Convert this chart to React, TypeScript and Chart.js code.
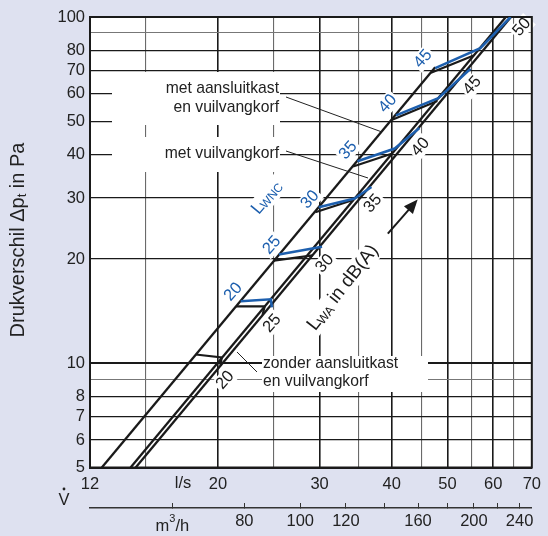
import React, { useEffect, useRef } from 'react';
import { Chart, registerables } from 'chart.js';
Chart.register(...registerables);

const FONT = '"Liberation Sans", Arial, Helvetica, sans-serif';
const BG = '#dee1f0';
const INK = '#1a1a1a';
const BLUE = '#1d5fae';

// axis ticks
const xTicks = [12, 15, 20, 25, 30, 35, 40, 45, 50, 55, 60, 65, 70];
const xLabeled = [12, 20, 30, 40, 50, 60, 70];
const xMajor = [20, 30, 40, 50, 60];
const yTicks = [5, 6, 7, 8, 9, 10, 20, 30, 40, 50, 60, 70, 80, 90, 100];
const yLabeled = [5, 6, 7, 8, 10, 20, 30, 40, 50, 60, 70, 80, 100];
const m3hTicks = [60, 80, 100, 120, 140, 160, 180, 200, 220, 240];
const m3hLabeled = [80, 100, 120, 160, 200, 240];

// characteristic lines (flow l/s, pressure Pa)
const line1V = [12.58, 47.6];
const line1P = [5, 71.6];
const line2V = [14.11, 63.1];
const line2P = [5, 100];
const line3V = [14.4, 64.4];
const line3P = [5, 100];

// LWA (black) iso-noise segments
const lwaLevels = ['20', '25', '30', '35', '40', '45', '50'];
const lwaV = [[18.3, 20.3, 20.2], [21.5, 24.1, 23.9], [25.0, 29.2], [29.5, 34.3], [34.3, 40.0], [40.0, 48.0], [46.8, 55.5]];
const lwaP = [[10.6, 10.4, 9.85], [14.6, 14.6, 13.8], [19.8, 20.5], [27.3, 29.6], [37.0, 40.3], [50.4, 57.2], [69.0, 77.4]];
const lwaLabelV = [20.58, 24.83, 30.64, 37.12, 44.9, 55.2, 67.3];
const lwaLabelP = [8.94, 13.03, 19.41, 28.92, 42.11, 63.4, 93.5];

// LWNC (blue) iso-noise segments
const lwncLevels = ['20', '25', '30', '35', '40', '45'];
const lwncV = [[21.9, 24.7, 24.8], [25.5, 30.3], [29.9, 34.5, 36.9], [34.9, 40.5, 44.7], [40.7, 48.2, 54.8], [47.6, 57.0, 64.3]];
const lwncP = [[15.1, 15.3, 14.5], [20.6, 21.7], [28.2, 29.9, 32.3], [38.3, 41.7, 47.8], [52.0, 58.3, 70.9], [71.2, 81.3, 100]];
const lwncLabelV = [21.26, 24.81, 28.89, 33.63, 39.4, 45.34];
const lwncLabelP = [16.07, 21.92, 29.69, 41.2, 56.2, 75.7];

const mk = (V: number[], P: number[]) => V.map((v, i) => ({ x: v, y: P[i] }));

const ANG = (48 * Math.PI) / 180;

function rotLabelBox(ctx: CanvasRenderingContext2D, x: number, y: number, w: number, h: number, ang: number) {
  ctx.save();
  ctx.translate(x, y);
  ctx.rotate(-ang);
  ctx.fillStyle = '#fff';
  ctx.fillRect(-w / 2 - 2, -h / 2 - 2, w + 4, h + 4);
  ctx.restore();
}

const decor = {
  id: 'decor',
  beforeDraw(chart: any) {
    const { ctx, chartArea: a, width, height } = chart;
    ctx.save();
    ctx.fillStyle = BG;
    ctx.fillRect(0, 0, width, height);
    ctx.fillStyle = '#fff';
    ctx.fillRect(a.left, a.top, a.right - a.left, a.bottom - a.top);
    ctx.restore();
  },
  beforeDatasetsDraw(chart: any) {
    const { ctx, chartArea: a, scales } = chart;
    const xs = scales.x, ys = scales.y;
    ctx.save();
    ctx.fillStyle = '#fff';
    // annotation boxes
    ctx.fillRect(112, 72, 168, 53);
    ctx.fillRect(112, 137, 168, 35);
    ctx.fillRect(262, 356, 166, 36);
    // label backgrounds
    ctx.font = `16.5px ${FONT}`;
    lwncLevels.forEach((t, i) => {
      const w = ctx.measureText(t).width;
      rotLabelBox(ctx, xs.getPixelForValue(lwncLabelV[i]), ys.getPixelForValue(lwncLabelP[i]), w, 13, ANG);
    });
    lwaLevels.forEach((t, i) => {
      const w = ctx.measureText(t).width;
      rotLabelBox(ctx, xs.getPixelForValue(lwaLabelV[i]), ys.getPixelForValue(lwaLabelP[i]), w, 13, ANG);
    });
    rotLabelBox(ctx, xs.getPixelForValue(24.35), ys.getPixelForValue(30.15), 46, 16, (50 * Math.PI) / 180);
    rotLabelBox(ctx, xs.getPixelForValue(32.97), ys.getPixelForValue(16.58), 106, 18, (52 * Math.PI) / 180);
    // frame
    ctx.strokeStyle = INK;
    ctx.lineWidth = 2;
    ctx.strokeRect(a.left, a.top, a.right - a.left, a.bottom - a.top);
    ctx.restore();
  },
  afterDatasetsDraw(chart: any) {
    const { ctx, scales } = chart;
    const xs = scales.x, ys = scales.y;
    ctx.save();
    ctx.textBaseline = 'middle';
    // iso-noise numbers
    ctx.font = `16.5px ${FONT}`;
    ctx.textAlign = 'center';
    lwncLevels.forEach((t, i) => {
      ctx.save();
      ctx.translate(xs.getPixelForValue(lwncLabelV[i]), ys.getPixelForValue(lwncLabelP[i]));
      ctx.rotate(-ANG);
      ctx.fillStyle = BLUE;
      ctx.fillText(t, 0, 0);
      ctx.restore();
    });
    lwaLevels.forEach((t, i) => {
      ctx.save();
      ctx.translate(xs.getPixelForValue(lwaLabelV[i]), ys.getPixelForValue(lwaLabelP[i]));
      ctx.rotate(-ANG);
      ctx.fillStyle = INK;
      ctx.fillText(t, 0, 0);
      ctx.restore();
    });
    // L_WNC
    ctx.save();
    ctx.translate(xs.getPixelForValue(24.35), ys.getPixelForValue(30.15));
    ctx.rotate((-50 * Math.PI) / 180);
    ctx.fillStyle = BLUE;
    ctx.textAlign = 'left';
    ctx.font = `18px ${FONT}`;
    const wL = ctx.measureText('L').width;
    ctx.font = `12px ${FONT}`;
    const wS = ctx.measureText('WNC').width;
    let x0 = -(wL + wS) / 2;
    ctx.font = `18px ${FONT}`;
    ctx.fillText('L', x0, 0);
    ctx.font = `12px ${FONT}`;
    ctx.fillText('WNC', x0 + wL - 1, 3);
    ctx.restore();
    // L_WA in dB(A)
    ctx.save();
    ctx.translate(xs.getPixelForValue(32.97), ys.getPixelForValue(16.58));
    ctx.rotate((-52 * Math.PI) / 180);
    ctx.fillStyle = INK;
    ctx.textAlign = 'left';
    ctx.font = `19px ${FONT}`;
    const w1 = ctx.measureText('L').width;
    const w3 = ctx.measureText(' in dB(A)').width;
    ctx.font = `12.5px ${FONT}`;
    const w2 = ctx.measureText('WA').width;
    x0 = -(w1 + w2 + w3) / 2;
    ctx.font = `19px ${FONT}`;
    ctx.fillText('L', x0, 0);
    ctx.fillText(' in dB(A)', x0 + w1 + w2 - 1, 0);
    ctx.font = `12.5px ${FONT}`;
    ctx.fillText('WA', x0 + w1 - 1, 4);
    ctx.restore();
    // arrow
    const ax1 = xs.getPixelForValue(39.4), ay1 = ys.getPixelForValue(23.69);
    const ax2 = xs.getPixelForValue(44.38), ay2 = ys.getPixelForValue(29.69);
    const ang = Math.atan2(ay2 - ay1, ax2 - ax1);
    ctx.strokeStyle = INK;
    ctx.fillStyle = INK;
    ctx.lineWidth = 2;
    ctx.beginPath();
    ctx.moveTo(ax1, ay1);
    ctx.lineTo(ax2 - 8 * Math.cos(ang), ay2 - 8 * Math.sin(ang));
    ctx.stroke();
    ctx.beginPath();
    ctx.moveTo(ax2, ay2);
    ctx.lineTo(ax2 - 14 * Math.cos(ang) + 6 * Math.sin(ang), ay2 - 14 * Math.sin(ang) - 6 * Math.cos(ang));
    ctx.lineTo(ax2 - 14 * Math.cos(ang) - 6 * Math.sin(ang), ay2 - 14 * Math.sin(ang) + 6 * Math.cos(ang));
    ctx.closePath();
    ctx.fill();
    // annotations
    ctx.fillStyle = '#222';
    ctx.font = `15.7px ${FONT}`;
    ctx.textAlign = 'right';
    ctx.fillText('met aansluitkast', 279, 88.5);
    ctx.fillText('en vuilvangkorf', 279, 107.5);
    ctx.fillText('met vuilvangkorf', 279, 153.5);
    ctx.textAlign = 'left';
    ctx.fillText('zonder aansluitkast', 263, 363.5);
    ctx.fillText('en vuilvangkorf', 263, 382);
    ctx.strokeStyle = '#222';
    ctx.lineWidth = 1;
    ctx.beginPath();
    ctx.moveTo(286, 97);
    ctx.lineTo(382, 132);
    ctx.moveTo(286, 151);
    ctx.lineTo(368, 178);
    ctx.moveTo(257, 372);
    ctx.lineTo(237, 352);
    ctx.stroke();
    // axis words
    ctx.font = `16.5px ${FONT}`;
    ctx.textAlign = 'center';
    ctx.fillText('l/s', xs.getPixelForValue(17.4), 483);
    ctx.fillText('V', 64, 500);
    ctx.beginPath();
    ctx.arc(64, 489, 1.4, 0, Math.PI * 2);
    ctx.fill();
    // m3/h
    const mx = xs.getPixelForValue(16.67);
    ctx.textAlign = 'left';
    ctx.font = `16.5px ${FONT}`;
    const wm = ctx.measureText('m').width;
    ctx.font = `11px ${FONT}`;
    const w3s = ctx.measureText('3').width;
    ctx.font = `16.5px ${FONT}`;
    const wh = ctx.measureText('/h').width;
    const mx0 = mx - (wm + w3s + wh) / 2;
    ctx.fillText('m', mx0, 526);
    ctx.fillText('/h', mx0 + wm + w3s, 526);
    ctx.font = `11px ${FONT}`;
    ctx.fillText('3', mx0 + wm, 519);
    // y title
    ctx.save();
    ctx.translate(18, 240);
    ctx.rotate(-Math.PI / 2);
    ctx.font = `20px ${FONT}`;
    const t1 = 'Drukverschil \u0394p';
    const t3 = ' in Pa';
    const tw1 = ctx.measureText(t1).width;
    const tw3 = ctx.measureText(t3).width;
    ctx.font = `13px ${FONT}`;
    const tw2 = ctx.measureText('t').width;
    const tx0 = -(tw1 + tw2 + tw3) / 2;
    ctx.font = `20px ${FONT}`;
    ctx.textAlign = 'left';
    ctx.fillText(t1, tx0, 0);
    ctx.fillText(t3, tx0 + tw1 + tw2, 0);
    ctx.font = `13px ${FONT}`;
    ctx.fillText('t', tx0 + tw1, 4);
    ctx.restore();
    ctx.restore();
  },
};

export default function App() {
  const ref = useRef<HTMLCanvasElement>(null);
  useEffect(() => {
    document.body.style.margin = '0';
    const tickFont = { family: FONT, size: 16.5 };
    const lineDs = (V: number[], P: number[], color: string, w: number, order: number) => ({
      data: mk(V, P),
      borderColor: color,
      borderWidth: w,
      showLine: true,
      pointRadius: 0,
      fill: false,
      tension: 0,
      order,
      borderCapStyle: 'butt',
      borderJoinStyle: 'miter',
    });
    const chart = new Chart(ref.current as HTMLCanvasElement, {
      type: 'scatter',
      data: {
        datasets: [
          ...lwncV.map((V, i) => lineDs(V, lwncP[i], BLUE, 2.6, 0)),
          ...lwaV.map((V, i) => lineDs(V, lwaP[i], INK, 2.2, 1)),
          lineDs(line1V, line1P, INK, 2.3, 2),
          lineDs(line2V, line2P, INK, 2.3, 2),
          lineDs(line3V, line3P, INK, 2.3, 2),
        ] as any,
      },
      options: {
        animation: false,
        responsive: false,
        devicePixelRatio: 1,
        events: [],
        layout: { padding: { top: 17, right: 13, left: 0, bottom: 0 } },
        plugins: { legend: { display: false }, tooltip: { enabled: false } },
        scales: {
          x: {
            type: 'logarithmic',
            position: 'bottom',
            weight: 0,
            min: 12,
            max: 70,
            afterBuildTicks: (s: any) => {
              s.ticks = xTicks.map((v) => ({ value: v }));
            },
            afterFit: (s: any) => {
              s.height = 40.5;
            },
            grid: {
              drawTicks: false,
              color: (c: any) => (xMajor.includes(c.tick?.value) ? '#1a1a1a' : '#6a6a6a'),
              lineWidth: (c: any) => (xMajor.includes(c.tick?.value) ? 1.6 : 1.1),
            },
            border: { display: true, color: INK, width: 2 },
            ticks: {
              autoSkip: false,
              maxRotation: 0,
              padding: 7,
              color: '#222',
              font: tickFont,
              callback: (v: any) => (xLabeled.includes(Number(v)) ? String(v) : ''),
            },
          },
          x2: {
            type: 'logarithmic',
            position: 'bottom',
            weight: 1,
            min: 43.2,
            max: 252,
            afterBuildTicks: (s: any) => {
              s.ticks = m3hTicks.map((v) => ({ value: v }));
            },
            afterFit: (s: any) => {
              s.height = 28;
            },
            grid: { drawOnChartArea: false, drawTicks: true, tickLength: -5, tickColor: '#333', tickWidth: 1 },
            border: { display: true, color: '#333', width: 1.5 },
            ticks: {
              autoSkip: false,
              maxRotation: 0,
              padding: 9,
              color: '#222',
              font: tickFont,
              callback: (v: any) => (m3hLabeled.includes(Number(v)) ? String(v) : ''),
            },
          },
          y: {
            type: 'logarithmic',
            position: 'left',
            min: 5,
            max: 100,
            afterBuildTicks: (s: any) => {
              s.ticks = yTicks.map((v) => ({ value: v }));
            },
            afterFit: (s: any) => {
              s.width = 90;
            },
            grid: {
              drawTicks: false,
              color: (c: any) => ([9, 90].includes(c.tick?.value) ? '#777' : '#1a1a1a'),
              lineWidth: (c: any) => (c.tick?.value === 10 ? 2 : [9, 90].includes(c.tick?.value) ? 1 : 1.3),
            },
            border: { display: true, color: INK, width: 2 },
            ticks: {
              autoSkip: false,
              padding: 5,
              color: '#222',
              font: tickFont,
              callback: (v: any) => (yLabeled.includes(Number(v)) ? String(v) : ''),
            },
          },
        },
      },
      plugins: [decor as any],
    });
    return () => chart.destroy();
  }, []);
  return (
    <div style={{ width: 548, height: 536 }}>
      <canvas ref={ref} width={548} height={536} style={{ display: 'block' }} />
    </div>
  );
}
